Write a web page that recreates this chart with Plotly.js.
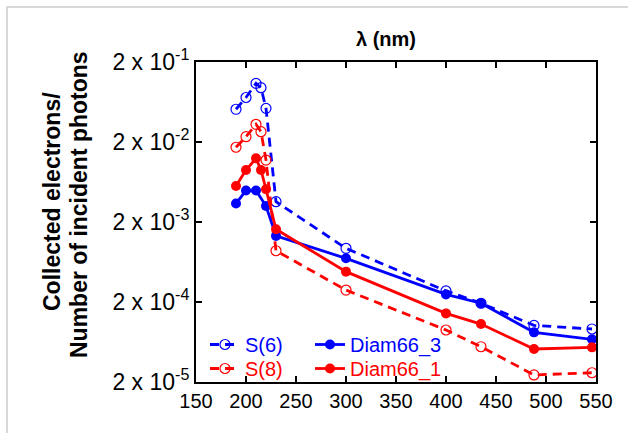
<!DOCTYPE html>
<html>
<head>
<meta charset="utf-8">
<script src="https://cdn.plot.ly/plotly-3.0.1.min.js"></script>
<style>
  html, body { margin: 0; padding: 0; background: #ffffff; }
  #chart { width: 628px; height: 433px; }
</style>
</head>
<body>
<div id="chart"></div>
<script>
// Wavelengths (nm)
const lambdaS6 = [190, 200, 210, 215, 220, 230, 300, 400, 435, 488, 546];
const valuesS6 = [0.0513, 0.0720, 0.108, 0.0954, 0.0527, 0.00359, 9.38e-4, 2.75e-4, 1.93e-4, 1.02e-4, 9.2e-5];

const lambdaS8 = [190, 200, 210, 215, 220, 230, 300, 400, 435, 488, 546];
const valuesS8 = [0.0172, 0.0233, 0.0333, 0.0269, 0.0119, 8.74e-4, 2.82e-4, 8.93e-5, 5.52e-5, 2.45e-5, 2.61e-5];

const lambdaD3 = [190, 200, 210, 220, 230, 300, 400, 435, 488, 546];
const valuesD3 = [0.00340, 0.00495, 0.00495, 0.00317, 0.00134, 7.03e-4, 2.49e-4, 1.93e-4, 8.35e-5, 6.84e-5];

const lambdaD1 = [190, 200, 210, 215, 220, 230, 300, 400, 435, 488, 546];
const valuesD1 = [0.00564, 0.00893, 0.0125, 0.00893, 0.00513, 0.00162, 4.79e-4, 1.44e-4, 1.06e-4, 5.17e-5, 5.42e-5];

const yTickVals = [2e-5, 2e-4, 2e-3, 2e-2, 2e-1];
const yTickText = ['2 x 10<sup>-5</sup>', '2 x 10<sup>-4</sup>', '2 x 10<sup>-3</sup>', '2 x 10<sup>-2</sup>', '2 x 10<sup>-1</sup>'];

const yTitleLines = ['Collected electrons/', 'Number of incident photons'];
const xTitle = 'λ (nm)';

const BLUE = 'rgb(0,0,255)';
const RED = 'rgb(255,0,0)';
const FONT = 'Liberation Sans, Arial, sans-serif';

const traces = [
  {
    x: lambdaS6, y: valuesS6, name: '<span style="color:' + BLUE + '">S(6)</span>',
    type: 'scatter', mode: 'lines+markers', legend: 'legend',
    line: {color: BLUE, width: 2.8, dash: '9px,6px'},
    marker: {symbol: 'circle-open', size: 10, color: BLUE, line: {width: 1.2, color: BLUE}}
  },
  {
    x: lambdaS8, y: valuesS8, name: '<span style="color:' + RED + '">S(8)</span>',
    type: 'scatter', mode: 'lines+markers', legend: 'legend3',
    line: {color: RED, width: 2.8, dash: '9px,6px'},
    marker: {symbol: 'circle-open', size: 10, color: RED, line: {width: 1.2, color: RED}}
  },
  {
    x: lambdaD3, y: valuesD3, name: '<span style="color:' + BLUE + '">Diam66_3</span>',
    type: 'scatter', mode: 'lines+markers', legend: 'legend2',
    line: {color: BLUE, width: 2.8},
    marker: {symbol: 'circle', size: 10, color: BLUE}
  },
  {
    x: lambdaD1, y: valuesD1, name: '<span style="color:' + RED + '">Diam66_1</span>',
    type: 'scatter', mode: 'lines+markers', legend: 'legend4',
    line: {color: RED, width: 2.8},
    marker: {symbol: 'circle', size: 10, color: RED}
  }
];

const L = 196, R = 596, T = 62, B = 382, W = 628, H = 433;
const px = v => (v - L) / (R - L);
const py = v => (B - v) / (B - T);

function legendAt(xPix, topPix) {
  return {
    x: px(xPix), y: py(topPix), xanchor: 'left', yanchor: 'top',
    bgcolor: 'rgba(0,0,0,0)', borderwidth: 0, tracegroupgap: 0,
    font: {family: FONT, size: 20}, itemwidth: 30
  };
}

const layout = {
  width: W, height: H,
  margin: {l: L, r: W - R, t: T, b: H - B, pad: 0},
  paper_bgcolor: '#ffffff', plot_bgcolor: '#ffffff',
  font: {family: FONT, color: '#000000', size: 20},
  showlegend: true,
  title: {
    text: '<b>' + xTitle + '</b>', font: {family: FONT, size: 20, color: '#000'},
    xref: 'paper', x: 0.475, xanchor: 'center',
    yref: 'container', y: 1 - 39 / H, yanchor: 'middle'
  },
  xaxis: {
    type: 'linear', range: [150, 550], tick0: 150, dtick: 50,
    ticks: 'inside', ticklen: 6, tickwidth: 2, tickcolor: '#000',
    showline: true, linewidth: 2, linecolor: '#000', mirror: 'ticks',
    showgrid: false, zeroline: false,
    tickfont: {family: FONT, size: 20, color: '#000'}
  },
  yaxis: {
    type: 'log', range: [Math.log10(2e-5), Math.log10(2e-1)],
    tickmode: 'array', tickvals: yTickVals, ticktext: yTickText,
    ticks: 'inside', ticklen: 6, tickwidth: 2, tickcolor: '#000',
    showline: true, linewidth: 2, linecolor: '#000', mirror: 'ticks',
    showgrid: false, zeroline: false,
    tickfont: {family: FONT, size: 23, color: '#000'}
  },
  legend: legendAt(205, 325),
  legend2: legendAt(310, 325),
  legend3: legendAt(205, 349),
  legend4: legendAt(310, 349),
  annotations: [
    {
      text: '<b>' + yTitleLines[0] + '</b>', textangle: -90, showarrow: false,
      xref: 'paper', yref: 'paper', x: px(52), y: py(202), xanchor: 'center', yanchor: 'middle',
      font: {family: FONT, size: 23, color: '#000'}
    },
    {
      text: '<b>' + yTitleLines[1] + '</b>', textangle: -90, showarrow: false,
      xref: 'paper', yref: 'paper', x: px(79), y: py(205), xanchor: 'center', yanchor: 'middle',
      font: {family: FONT, size: 23, color: '#000'}
    }
  ],
  shapes: [{
    type: 'rect', xref: 'paper', yref: 'paper', layer: 'below',
    x0: px(7), x1: px(700), y0: py(520), y1: py(7),
    line: {color: '#cccccc', width: 1.5}, fillcolor: 'rgba(0,0,0,0)'
  }]
};

Plotly.newPlot('chart', traces, layout, {displayModeBar: false, staticPlot: true});
</script>
</body>
</html>
